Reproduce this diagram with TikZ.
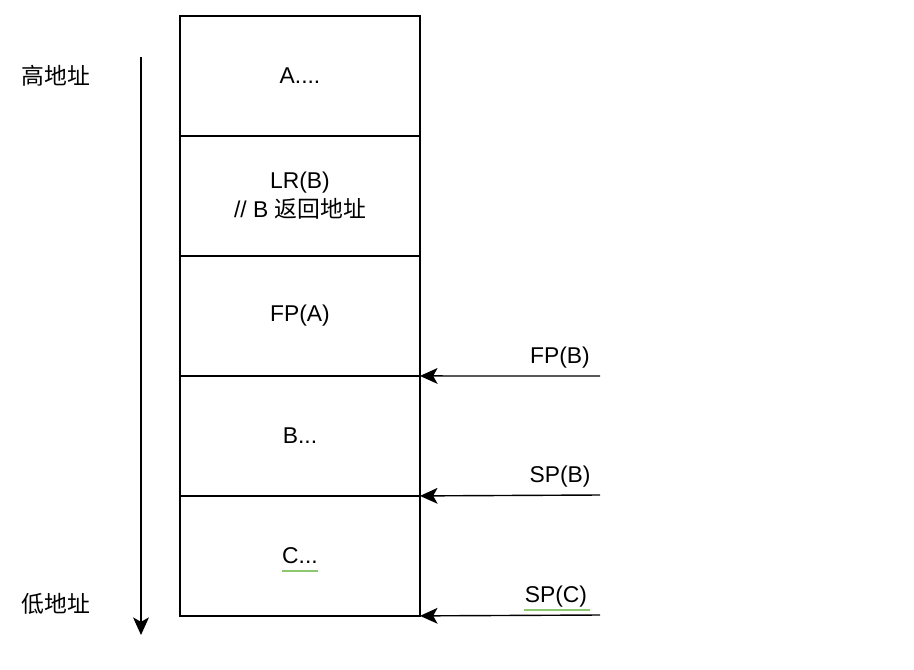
\documentclass[tikz,border=0pt]{standalone}
\usepackage{fontspec}
\setmainfont{Liberation Sans}
\newfontfamily\cjk{Noto Sans CJK SC}
\usetikzlibrary{arrows.meta,positioning}

\definecolor{spellgreen}{RGB}{140,200,110}

\begin{document}
\begin{tikzpicture}[x=0.02cm,y=-0.02cm,line width=0.8pt,
	cell/.style={draw,minimum width=4.8cm,minimum height=2.4cm,inner sep=0,outer sep=0,font=\fontsize{13}{16.5}\selectfont,align=center},
	ptr/.style={-{Stealth[length=10pt,width=9pt,inset=2.5pt]}},
	lbl/.style={font=\fontsize{13}{16}\selectfont,inner sep=1pt},
	squiggle/.style={spellgreen,line width=0.9pt}]

\useasboundingbox (0,0) rectangle (914,670);

% stack cells
\node[cell] (a) at (300,76) {A....};
\node[cell,below=0 of a] (lr) {LR(B)\\ // B {\cjk 返回地址}};
\node[cell,below=0 of lr] (fpa) {FP(A)};
\node[cell,below=0 of fpa] (b) {B...};
\node[cell,below=0 of b] (c) {C...};

% address direction
\coordinate (top) at (141,57);
\coordinate (bottom) at (141,635);
\draw[ptr] (top)--(bottom);
\node[lbl] (high) at (56,76) {\cjk 高地址};
\node[lbl] (low) at (56,604) {\cjk 低地址};

% pointers
\coordinate (fpbstart) at (600,376);
\coordinate (spbstart) at (600,495);
\coordinate (spcstart) at (600,615);
\draw[ptr] (fpbstart)--(fpa.south east);
\draw[ptr] (spbstart)--(b.south east);
\draw[ptr] (spcstart)--(c.south east);
\node[lbl] (fpb) at (560,358) {FP(B)};
\node[lbl] (spb) at (560,477) {SP(B)};
\node[lbl] (spc) at (556,597) {SP(C)};

% spell check marks
\draw[squiggle] (282,571)--(318,571);
\draw[squiggle] (524,610)--(590,610);

\end{tikzpicture}
\end{document}
